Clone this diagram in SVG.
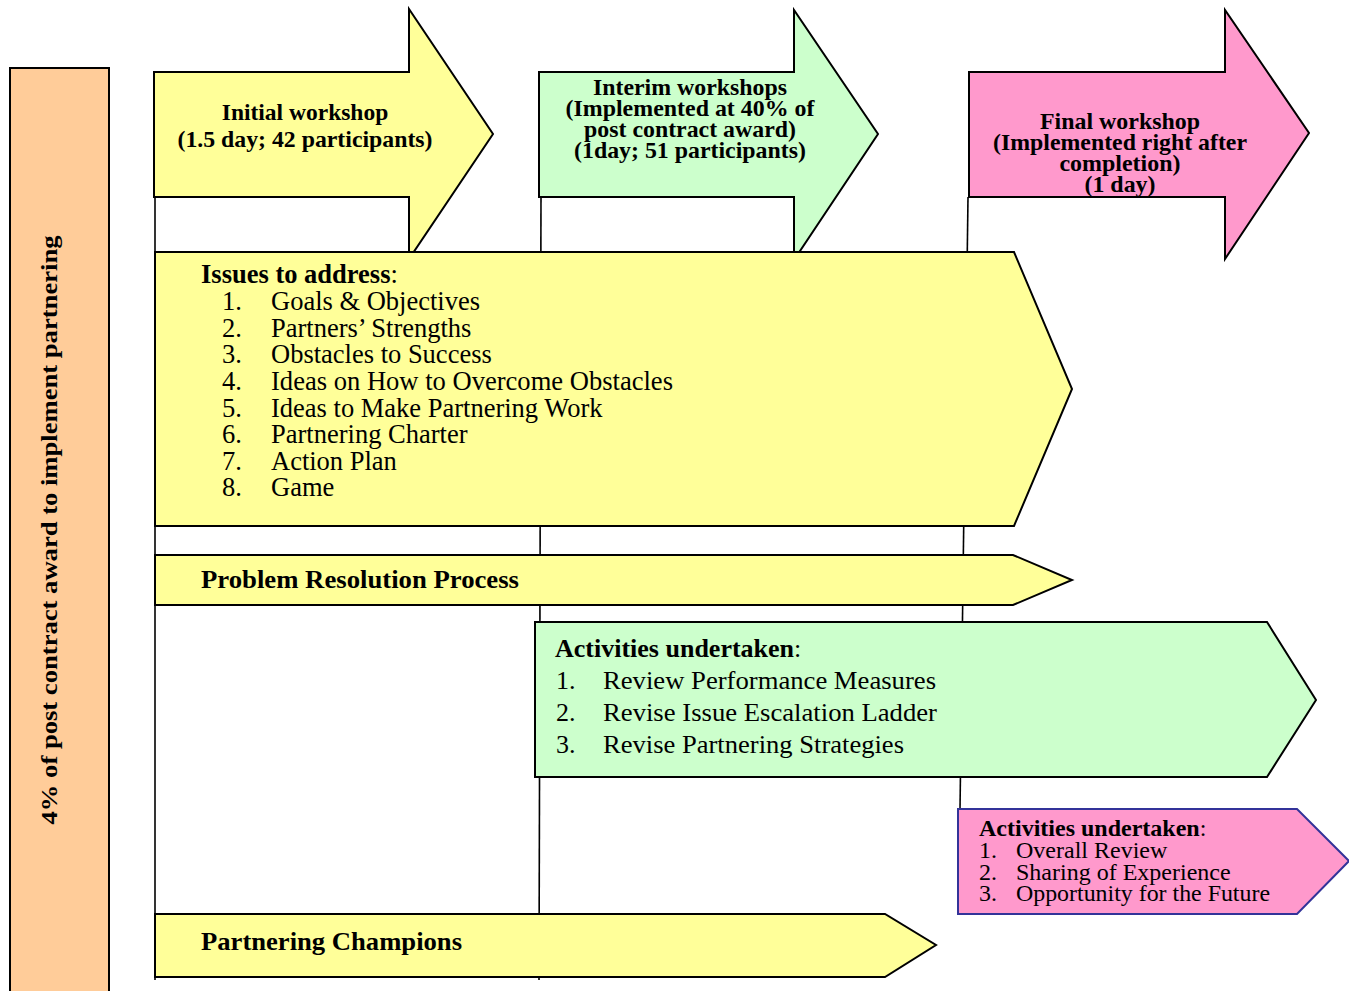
<svg xmlns="http://www.w3.org/2000/svg" width="1349" height="991" viewBox="0 0 1349 991">
  <style>
    .shape { stroke: #000; stroke-width: 2; stroke-linejoin: miter; }
    .yellow { fill: #FFFF99; }
    .green { fill: #CCFFCC; }
    .pink { fill: #FF99CC; }
    .orange { fill: #FFCC99; }
    .t { font-family: "Liberation Serif", "Times New Roman", serif; fill: #000; }
    .b { font-weight: bold; }
    .c { text-anchor: middle; }
    .link { stroke: #000; stroke-width: 1.6; fill: none; }
  </style>

  <rect width="1349" height="991" fill="#fff"/>

  <!-- timeline connectors -->
  <g id="connectors">
    <line class="link" x1="155" y1="197" x2="155" y2="980"/>
    <line class="link" x1="541" y1="197" x2="539" y2="980"/>
    <line class="link" x1="968" y1="197" x2="960" y2="810"/>
  </g>

  <!-- side bar -->
  <g id="duration-bar">
    <rect class="shape orange" x="10" y="68" width="99" height="930"/>
    <text class="t b c" font-size="24" transform="translate(57,530) rotate(-90)" textLength="589" lengthAdjust="spacingAndGlyphs">4% of post contract award to implement partnering</text>
  </g>

  <!-- workshop arrows -->
  <g id="initial-workshop">
    <polygon class="shape yellow" points="154,72 409,72 409,9 493,134 409,259 409,197 154,197"/>
    <text class="t b c" font-size="23.5" x="305" y="120">Initial workshop</text>
    <text class="t b c" font-size="23.5" x="305" y="147" textLength="255" lengthAdjust="spacingAndGlyphs">(1.5 day; 42 participants)</text>
  </g>

  <g id="interim-workshops">
    <polygon class="shape green" points="539,72 794,72 794,10 878,134 794,260 794,197 539,197"/>
    <text class="t b c" font-size="23" x="690" y="95" textLength="194" lengthAdjust="spacingAndGlyphs">Interim workshops</text>
    <text class="t b c" font-size="23" x="690" y="116" textLength="249" lengthAdjust="spacingAndGlyphs">(Implemented at 40% of</text>
    <text class="t b c" font-size="23" x="690" y="137" textLength="212" lengthAdjust="spacingAndGlyphs">post contract award)</text>
    <text class="t b c" font-size="23" x="690" y="158" textLength="232" lengthAdjust="spacingAndGlyphs">(1day; 51 participants)</text>
  </g>

  <g id="final-workshop">
    <polygon class="shape pink" points="969,72 1225,72 1225,10 1309,133 1225,259 1225,197 969,197"/>
    <text class="t b c" font-size="23" x="1120" y="129" textLength="160" lengthAdjust="spacingAndGlyphs">Final workshop</text>
    <text class="t b c" font-size="23" x="1120" y="150" textLength="254" lengthAdjust="spacingAndGlyphs">(Implemented right after</text>
    <text class="t b c" font-size="23" x="1120" y="171" textLength="121" lengthAdjust="spacingAndGlyphs">completion)</text>
    <text class="t b c" font-size="23" x="1120" y="192" textLength="71" lengthAdjust="spacingAndGlyphs">(1 day)</text>
  </g>

  <!-- initial workshop issues -->
  <g id="issues">
    <polygon class="shape yellow" points="155,252 1014,252 1072,389 1014,526 155,526"/>
    <text class="t" font-size="26.5" x="201" y="283"><tspan class="b">Issues to address</tspan>:</text>
    <g class="t" font-size="26.5">
      <text x="222" y="310">1.</text><text x="271" y="310">Goals &amp; Objectives</text>
      <text x="222" y="337">2.</text><text x="271" y="337">Partners’ Strengths</text>
      <text x="222" y="363">3.</text><text x="271" y="363">Obstacles to Success</text>
      <text x="222" y="390">4.</text><text x="271" y="390" textLength="402" lengthAdjust="spacingAndGlyphs">Ideas on How to Overcome Obstacles</text>
      <text x="222" y="417">5.</text><text x="271" y="417">Ideas to Make Partnering Work</text>
      <text x="222" y="443">6.</text><text x="271" y="443">Partnering Charter</text>
      <text x="222" y="470">7.</text><text x="271" y="470">Action Plan</text>
      <text x="222" y="496">8.</text><text x="271" y="496">Game</text>
    </g>
  </g>

  <g id="problem-resolution">
    <polygon class="shape yellow" points="155,555 1013,555 1072,580 1013,605 155,605"/>
    <text class="t b" font-size="26" x="201" y="588" textLength="318" lengthAdjust="spacingAndGlyphs">Problem Resolution Process</text>
  </g>

  <!-- interim workshop activities -->
  <g id="interim-activities">
    <polygon class="shape green" points="535,622 1267,622 1316,700 1267,777 535,777"/>
    <text class="t" font-size="26" x="555" y="657"><tspan class="b">Activities undertaken</tspan>:</text>
    <g class="t" font-size="26">
      <text x="556" y="689">1.</text><text x="603" y="689" textLength="333" lengthAdjust="spacingAndGlyphs">Review Performance Measures</text>
      <text x="556" y="721">2.</text><text x="603" y="721" textLength="334" lengthAdjust="spacingAndGlyphs">Revise Issue Escalation Ladder</text>
      <text x="556" y="753">3.</text><text x="603" y="753" textLength="301" lengthAdjust="spacingAndGlyphs">Revise Partnering Strategies</text>
    </g>
  </g>

  <!-- final workshop activities -->
  <g id="final-activities">
    <polygon points="958,809 1297,809 1349,861 1297,914 958,914" fill="#FF99CC" stroke="#333399" stroke-width="2"/>
    <text class="t" font-size="24" x="979" y="836"><tspan class="b">Activities undertaken</tspan>:</text>
    <g class="t" font-size="24">
      <text x="979" y="858">1.</text><text x="1016" y="858">Overall Review</text>
      <text x="979" y="880">2.</text><text x="1016" y="880">Sharing of Experience</text>
      <text x="979" y="901">3.</text><text x="1016" y="901" textLength="254" lengthAdjust="spacingAndGlyphs">Opportunity for the Future</text>
    </g>
  </g>

  <g id="partnering-champions">
    <polygon class="shape yellow" points="155,914 885,914 936,945 885,977 155,977"/>
    <text class="t b" font-size="26" x="201" y="950" textLength="261" lengthAdjust="spacingAndGlyphs">Partnering Champions</text>
  </g>
</svg>
